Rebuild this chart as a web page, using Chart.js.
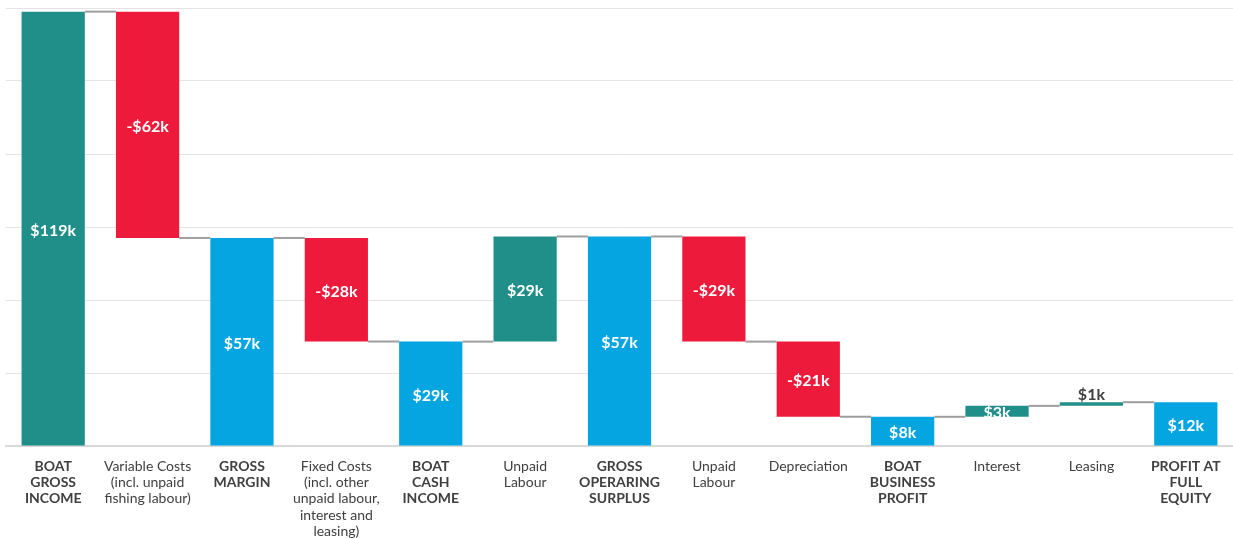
<!DOCTYPE html>
<html>
<head>
<meta charset="utf-8">
<title>Boat profit waterfall</title>
<script src="https://cdn.jsdelivr.net/npm/chart.js@4/dist/chart.umd.min.js"></script>
<style>
  html, body { margin: 0; padding: 0; background: #ffffff; }
  #wrap { position: relative; width: 1233px; height: 538px; }
</style>
</head>
<body>
<div id="wrap"><canvas id="chart"></canvas></div>
<script>
// Category labels (multi-line)
const categories = [
  ['BOAT', 'GROSS', 'INCOME'],
  ['Variable Costs', '(incl. unpaid', 'fishing labour)'],
  ['GROSS', 'MARGIN'],
  ['Fixed Costs', '(incl. other', 'unpaid labour,', 'interest and', 'leasing)'],
  ['BOAT', 'CASH', 'INCOME'],
  ['Unpaid', 'Labour'],
  ['GROSS', 'OPERARING', 'SURPLUS'],
  ['Unpaid', 'Labour'],
  ['Depreciation'],
  ['BOAT', 'BUSINESS', 'PROFIT'],
  ['Interest'],
  ['Leasing'],
  ['PROFIT AT', 'FULL', 'EQUITY']
];

// Amounts in $k: totals are absolute, other steps are changes
const amounts = [119.0, -62.0, 57.0, -28.4, 28.6, 28.8, 57.4, -28.8, -20.6, 8.0, 3.0, 1.0, 12.0];

// Kind of each step
const kinds = ['income', 'cost', 'total', 'cost', 'total', 'gain', 'total', 'cost', 'cost', 'total', 'gain', 'gain', 'total'];

// Value axis range (no tick labels drawn, gridlines only)
const yMin = 0;
const yMax = 120;
const yStep = 20;

const COLORS = { income: '#218F89', gain: '#218F89', cost: '#EE1A3B', total: '#05A5E1' };
const TEXT = '#404040';
const FONT = 'Lato, "Noto Sans", sans-serif';

// Build floating [start, end] ranges for the waterfall
const ranges = [];
let running = 0;
amounts.forEach((v, i) => {
  if (kinds[i] === 'total' || kinds[i] === 'income') {
    ranges.push([0, v]);
    running = v;
  } else {
    ranges.push([running, running + v]);
    running += v;
  }
});

function fmt(v) {
  const r = Math.round(Math.abs(v));
  return (v < 0 ? '-' : '') + '$' + r + 'k';
}

// Connector lines between bars and value labels
const waterfallExtras = {
  id: 'waterfallExtras',
  afterDatasetsDraw(chart) {
    const { ctx } = chart;
    const meta = chart.getDatasetMeta(0);
    const y = chart.scales.y;
    ctx.save();
    // connectors
    ctx.strokeStyle = '#9E9E9E';
    ctx.lineWidth = 2;
    for (let i = 0; i < meta.data.length - 1; i++) {
      const a = meta.data[i], b = meta.data[i + 1];
      const level = y.getPixelForValue(ranges[i][1]);
      ctx.beginPath();
      ctx.moveTo(a.x + a.width / 2, level);
      ctx.lineTo(b.x - b.width / 2, level);
      ctx.stroke();
    }
    // value labels
    ctx.font = 'bold 16px ' + FONT;
    ctx.textAlign = 'center';
    meta.data.forEach((el, i) => {
      const top = Math.min(el.y, el.base);
      const bot = Math.max(el.y, el.base);
      const h = bot - top;
      const text = fmt(amounts[i]);
      if (h < 8) {
        ctx.fillStyle = TEXT;
        ctx.textBaseline = 'bottom';
        ctx.fillText(text, el.x, top + 1);
      } else {
        ctx.fillStyle = '#ffffff';
        ctx.textBaseline = 'middle';
        ctx.fillText(text, el.x, (top + bot) / 2 + 2);
      }
    });
    ctx.restore();
  }
};

new Chart(document.getElementById('chart'), {
  type: 'bar',
  data: {
    labels: categories,
    datasets: [{
      data: ranges,
      backgroundColor: kinds.map(k => COLORS[k]),
      borderWidth: 0,
      borderSkipped: false,
      barPercentage: 1,
      categoryPercentage: 0.67
    }]
  },
  options: {
    responsive: true,
    maintainAspectRatio: false,
    animation: false,
    layout: { padding: { top: 8, left: 6, right: 0, bottom: 0 } },
    plugins: {
      legend: { display: false },
      tooltip: { enabled: false }
    },
    scales: {
      x: {
        grid: { display: false },
        border: { display: true, color: '#D9D9D9', width: 2 },
        ticks: {
          padding: 4,
          maxRotation: 0,
          autoSkip: false,
          color: TEXT,
          font: (c) => ({
            family: FONT,
            size: 14,
            lineHeight: 1.17,
            weight: (kinds[c.index] === 'total' || kinds[c.index] === 'income') ? 'bold' : 'normal'
          })
        },
        afterFit(axis) { axis.height = 92; }
      },
      y: {
        min: yMin,
        max: yMax,
        ticks: { display: false, stepSize: yStep },
        grid: { color: '#E3E3E3', lineWidth: 1, drawTicks: false },
        border: { display: false },
        afterFit(axis) { axis.width = 0; }
      }
    }
  },
  plugins: [waterfallExtras]
});
</script>
</body>
</html>
